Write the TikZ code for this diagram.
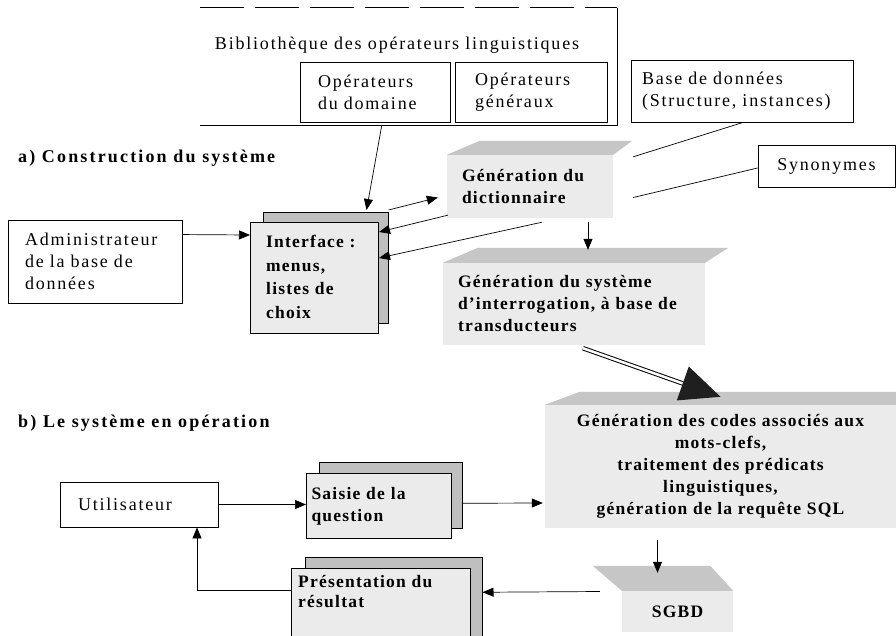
\documentclass[tikz,border=0pt]{standalone}
\usepackage{fontspec}
\setmainfont{Liberation Serif}[LetterSpace=10, BoldFeatures={LetterSpace=7}]
\newfontfamily\titlefont{Liberation Serif Bold}[LetterSpace=12]
\usetikzlibrary{arrows.meta,calc}
\newcommand\fsz{\fontsize{18}{22}\selectfont}
\newcommand\bsz{\fontsize{17.5}{22}\selectfont\bfseries}
\tikzset{
  wbox/.style={draw, line width=0.9pt, fill=white, inner sep=0pt, font=\fsz},
  face/.style={fill=gray!16, inner sep=0pt, font=\bsz},
  slabtop/.style={fill=gray!45},
  shad/.style={draw, line width=0.5pt, fill=gray!50, inner sep=0pt},
  fbox/.style={draw, line width=1pt, fill=gray!16, inner sep=0pt, font=\bsz},
  arr/.style={line width=0.7pt, -{Triangle[length=11pt,width=9pt]}},
  conn/.style={line width=0.7pt},
  lbl/.style={inner sep=0pt, font=\fsz, align=left},
  ttl/.style={inner sep=0pt, font=\fontsize{18}{22}\selectfont\titlefont, anchor=west}
}
\begin{document}
\begin{tikzpicture}[x=1pt,y=-1pt]
\useasboundingbox (0,0) rectangle (896,635);
\clip (0,0) rectangle (896,635);
\fill[white] (0,0) rectangle (896,635);

% library of operators
\node[minimum width=417, minimum height=117, inner sep=0pt] (lib) at (408.5,66.5) {};
\draw[line width=0.9pt, dash pattern=on 44pt off 11pt] (lib.north west) -- (lib.north east);
\draw[line width=0.9pt] (lib.north east) -- (lib.south east) -- (lib.south west);
\node[lbl] (libt) at (397,45) {Bibliothèque des opérateurs linguistiques};
\node[wbox, minimum width=150, minimum height=60, text width=114, align=left] (dom) at (375,92) {Opérateurs\\du domaine};
\node[wbox, minimum width=152, minimum height=60, text width=112, align=left] (gen) at (531,92) {Opérateurs\\généraux};
\node[wbox, minimum width=222, minimum height=62, text width=200, align=left] (bdd) at (742,91) {Base de données\\(Structure, instances)};
\node[wbox, minimum width=137, minimum height=42] (syn) at (826.5,166) {Synonymes};

% a)
\node[ttl] (ta) at (18,158) {a) Construction du système};
\node[wbox, minimum width=174, minimum height=83, text width=140, align=left] (admin) at (95,261.5) {Administrateur\\de la base de\\données};

% interface
\node[shad, minimum width=125, minimum height=111, anchor=north west] (ifsh) at (263,212) {};
\node[fbox, minimum width=128, minimum height=111, anchor=north west] (iface) at (250,222) {};
\node[lbl, font=\fontsize{17.5}{23.5}\selectfont\bfseries, anchor=north west] (ifacet) at (266,235) {Interface :\\menus,\\listes de\\choix};

% dictionary generation
\node[face, minimum width=166, minimum height=63, text width=136, align=left] (dictf) at (530,186.5) {Génération du\\dictionnaire};
\fill[slabtop] (dictf.north west) -- (dictf.north east) -- ++(19,-14) -- ($(dictf.north west)+(33,-14)$) -- cycle;

% system generation
\node[face, minimum width=262, minimum height=82, text width=232, align=left] (sysf) at (574,304) {Génération du système\\d'interrogation, à base de\\transducteurs};
\fill[slabtop] (sysf.north west) -- (sysf.north east) -- ++(23,-15) -- ($(sysf.north west)+(35,-15)$) -- cycle;

% b)
\node[ttl] (tb) at (18,423) {b) Le système en opération};

% big box
\node[face, minimum width=351, minimum height=123, align=center] (bigf) at (720.5,466.5) {Génération des codes associés aux\\mots-clefs,\\traitement des prédicats\\linguistiques,\\génération de la requête SQL};
\fill[slabtop] (bigf.north west) -- (bigf.north east) -- ++(0,-13) -- ($(bigf.north west)+(35,-13)$) -- cycle;

% SGBD
\node[face, minimum width=111, minimum height=41, text width=91, align=center] (sgbdf) at (677.5,611.5) {SGBD\hspace*{14pt}};
\fill[slabtop] (sgbdf.north west) -- (sgbdf.north east) -- ++(-23,-25) -- ($(sgbdf.north west)+(-29,-25)$) -- cycle;

% user
\node[wbox, minimum width=158, minimum height=45, text width=122, align=left] (user) at (139,504.5) {Utilisateur};

% saisie
\node[shad, minimum width=143, minimum height=66, anchor=north west] (saish) at (319,462) {};
\node[fbox, minimum width=145, minimum height=65, text width=135, align=left, anchor=north west] (saif) at (306,473) {Saisie de la\\question};

% presentation
\node[shad, minimum width=177, minimum height=90, anchor=north west] (presh) at (305,557) {};
\node[fbox, minimum width=179, minimum height=80, anchor=north west] (presf) at (291,568) {};
\node[lbl, font=\fontsize{17.5}{20.5}\selectfont\bfseries, anchor=north west] (prest) at (298,575) {Présentation du\\résultat};

% connectors
\draw[arr] ($(admin.north east)+(0,15)$) -- ($(iface.north west)+(0,13)$);
\draw[arr] ($(lib.south west)+(182,0)$) -- ($(ifsh.north east)+(-22,-2)$);
\draw[arr] ($(ifsh.north east)+(0,-2)$) -- ($(dictf.west)+(-9,11)$);
\draw[arr] ($(dictf.south west)+(1,-3)$) -- ($(iface.north east)+(0,10)$);
\draw[arr] ($(dictf.south)+(12,4)$) -- ($(iface.north east)+(0,36)$);
\draw[conn] ($(bdd.south)+(1,0)$) -- ($(dictf.north east)+(20,2)$);
\draw[conn] ($(syn.west)+(0,2)$) -- ($(dictf.east)+(20,11)$);
\draw[arr] ($(dictf.south)+(58,4)$) -- ($(sysf.north)+(14,-13)$);

% big arrow
\coordinate (bs) at ($(sysf.south)+(9,3)$);
\coordinate (bt) at ($(bigf.north)+(0,-8)$);
\coordinate (bb) at ($(bt)!40pt!(bs)$);
\draw[line width=1pt, double, double distance=2.5pt] (bs) -- (bb);
\fill[black!88] (bt) -- ($(bb)!18pt!90:(bs)$) -- ($(bb)!18pt!-90:(bs)$) -- cycle;

\draw[arr] ($(saish.east)+(0,8)$) -- ($(bigf.west)+(-2,36.5)$);
\draw[arr] (user.east) -- (user.east -| saif.west);
\draw[arr] ($(sgbdf.north)+(-20,-51)$) -- ($(sgbdf.north)+(-20,-18)$);
\draw[arr] ($(sgbdf.west)+(-22,-20)$) -- ($(presh.east)+(0,-10)$);
\draw[arr] ($(presf.north west)+(0,22)$) -| ($(user.south)+(58,0)$);
\end{tikzpicture}
\end{document}
